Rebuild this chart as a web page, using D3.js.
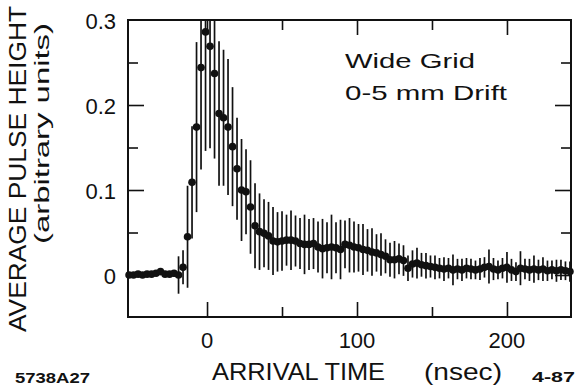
<!DOCTYPE html>
<html>
<head>
<meta charset="utf-8">
<script src="https://cdn.jsdelivr.net/npm/d3@7"></script>
<style>
  body { margin: 0; background: #fff; }
  svg { display: block; }
  text { font-family: "Liberation Sans", Arial, sans-serif; fill: #111; }
</style>
</head>
<body>
<svg id="chart" width="576" height="386"></svg>
<script>
// Arrival time of each bin (nsec)
const times = [
  -52, -49, -46, -43, -40, -37, -34, -31, -28, -25,
  -22, -19, -16, -13, -10, -7, -4, -1, 2, 5,
  8, 11, 14, 17, 20, 23, 26, 29, 32, 35,
  38, 41, 44, 47, 50, 53, 56, 59, 62, 65,
  68, 71, 74, 77, 80, 83, 86, 89, 92, 95,
  98, 101, 104, 107, 110, 113, 116, 119, 122, 125,
  128, 131, 134, 137, 140, 143, 146, 149, 152, 155,
  158, 161, 164, 167, 170, 173, 176, 179, 182, 185,
  188, 191, 194, 197, 200, 203, 206, 209, 212, 215,
  218, 221, 224, 227, 230, 233, 236, 239, 242
];
// Average pulse height per bin (arbitrary units)
const heights = [
  0.000, 0.000, 0.001, 0.000, 0.001, 0.001, 0.002, 0.004, 0.001, 0.001,
  0.002, 0.000, 0.009, 0.045, 0.109, 0.174, 0.244, 0.286, 0.269, 0.237,
  0.190, 0.185, 0.174, 0.151, 0.125, 0.100, 0.098, 0.080, 0.058, 0.051,
  0.049, 0.046, 0.040, 0.039, 0.040, 0.041, 0.041, 0.040, 0.037, 0.036,
  0.036, 0.037, 0.033, 0.031, 0.032, 0.033, 0.032, 0.030, 0.036, 0.035,
  0.033, 0.032, 0.030, 0.029, 0.027, 0.026, 0.024, 0.022, 0.018, 0.018,
  0.019, 0.017, 0.008, 0.013, 0.014, 0.012, 0.011, 0.010, 0.009, 0.008,
  0.007, 0.008, 0.006, 0.007, 0.006, 0.008, 0.007, 0.006, 0.007, 0.009,
  0.010, 0.007, 0.006, 0.008, 0.009, 0.006, 0.004, 0.008, 0.007, 0.006,
  0.007, 0.006, 0.007, 0.005, 0.006, 0.005, 0.006, 0.005, 0.004
];
// Half-length of each error bar
const errors = [
  0.003, 0.003, 0.003, 0.003, 0.003, 0.003, 0.003, 0.004, 0.003, 0.003,
  0.004, 0.022, 0.020, 0.060, 0.066, 0.100, 0.120, 0.140, 0.120, 0.100,
  0.085, 0.080, 0.080, 0.070, 0.060, 0.060, 0.050, 0.055, 0.050, 0.045,
  0.040, 0.040, 0.040, 0.035, 0.035, 0.030, 0.035, 0.030, 0.030, 0.035,
  0.030, 0.030, 0.030, 0.035, 0.030, 0.038, 0.030, 0.035, 0.028, 0.032,
  0.030, 0.028, 0.030, 0.025, 0.028, 0.022, 0.025, 0.020, 0.020, 0.022,
  0.018, 0.018, 0.015, 0.016, 0.018, 0.014, 0.015, 0.013, 0.014, 0.012,
  0.014, 0.012, 0.018, 0.012, 0.013, 0.012, 0.012, 0.011, 0.013, 0.012,
  0.020, 0.013, 0.011, 0.012, 0.018, 0.013, 0.011, 0.020, 0.012, 0.013,
  0.016, 0.012, 0.014, 0.012, 0.011, 0.013, 0.012, 0.011, 0.012
];

const xMajorTicks = [0, 100, 200];
const xMinorTicks = [50, 150];
const yMajorTicks = [0, 0.1, 0.2, 0.3];
const yMinorTicks = [0.05, 0.15, 0.25];
const yTickLabels = ["0", "0.1", "0.2", "0.3"];

const margin = { left: 128, top: 20, right: 5, bottom: 69 };
const W = 576, H = 386;
const iw = W - margin.left - margin.right;
const ih = H - margin.top - margin.bottom;

const svg = d3.select("#chart");
const x = d3.scaleLinear().domain([-52.7, 242.7]).range([0, iw]);
const y = d3.scaleLinear().domain([-0.0494, 0.3]).range([ih, 0]);

const g = svg.append("g").attr("transform", `translate(${margin.left},${margin.top})`);

g.append("clipPath").attr("id", "plot-clip")
  .append("rect").attr("width", iw).attr("height", ih);

// Inward ticks on all four sides; majors longer than minors
function ticks(axisFn, scale, values, len, tx, ty) {
  const a = axisFn(scale).tickValues(values).tickSizeInner(-len).tickSizeOuter(0).tickFormat("");
  const s = g.append("g").attr("transform", `translate(${tx},${ty})`).call(a);
  s.select(".domain").remove();
  s.selectAll(".tick line").attr("stroke", "#111").attr("stroke-width", 1.6);
}
ticks(d3.axisBottom, x, xMajorTicks, 15, 0, ih);
ticks(d3.axisBottom, x, xMinorTicks, 10, 0, ih);
ticks(d3.axisTop, x, xMajorTicks, 15, 0, 0);
ticks(d3.axisTop, x, xMinorTicks, 10, 0, 0);
ticks(d3.axisLeft, y, yMajorTicks.slice(0, 3), 16, 0, 0);
ticks(d3.axisLeft, y, yMinorTicks, 10, 0, 0);
ticks(d3.axisRight, y, yMajorTicks.slice(0, 3), 16, iw, 0);
ticks(d3.axisRight, y, yMinorTicks, 10, iw, 0);

// Error bars
const data = times.map((t, i) => ({ t, v: heights[i], e: errors[i] }));
g.append("g").attr("clip-path", "url(#plot-clip)")
  .selectAll("line").data(data).join("line")
  .attr("x1", d => x(d.t)).attr("x2", d => x(d.t))
  .attr("y1", d => y(d.v - d.e)).attr("y2", d => y(d.v + d.e))
  .attr("stroke", "#111").attr("stroke-width", 1.7);

// Data points
g.append("g").selectAll("circle").data(data).join("circle")
  .attr("cx", d => x(d.t)).attr("cy", d => y(d.v)).attr("r", 3.8)
  .attr("fill", "#111");

// Frame
g.append("rect").attr("width", iw).attr("height", ih)
  .attr("fill", "none").attr("stroke", "#111").attr("stroke-width", 2);

// Tick labels
g.append("g").selectAll("text").data(xMajorTicks).join("text")
  .attr("x", d => x(d)).attr("y", ih + 31)
  .attr("text-anchor", "middle").attr("font-size", 22)
  .text(d => d);
g.append("g").selectAll("text").data(yMajorTicks).join("text")
  .attr("x", -12).attr("y", d => y(d) + 9)
  .attr("text-anchor", "end").attr("font-size", 22)
  .text((d, i) => yTickLabels[i]);

// Axis titles
svg.append("text").attr("x", 212).attr("y", 380).attr("font-size", 24)
  .attr("textLength", 173).attr("lengthAdjust", "spacingAndGlyphs")
  .text("ARRIVAL TIME");
svg.append("text").attr("x", 424).attr("y", 380).attr("font-size", 24)
  .attr("textLength", 78).attr("lengthAdjust", "spacingAndGlyphs")
  .text("(nsec)");
svg.append("text").attr("transform", "translate(26,332) rotate(-90)")
  .attr("font-size", 24).attr("textLength", 326).attr("lengthAdjust", "spacingAndGlyphs")
  .text("AVERAGE PULSE HEIGHT");
svg.append("text").attr("transform", "translate(49,244) rotate(-90)")
  .attr("font-size", 20).attr("textLength", 221).attr("lengthAdjust", "spacingAndGlyphs")
  .text("(arbitrary units)");

// Annotation
svg.append("text").attr("x", 345).attr("y", 68).attr("font-size", 21)
  .attr("textLength", 130).attr("lengthAdjust", "spacingAndGlyphs")
  .text("Wide Grid");
svg.append("text").attr("x", 345).attr("y", 100).attr("font-size", 21)
  .attr("textLength", 162).attr("lengthAdjust", "spacingAndGlyphs")
  .text("0-5 mm Drift");

// Figure codes
svg.append("text").attr("x", 15).attr("y", 383).attr("font-size", 14)
  .attr("font-weight", "bold").attr("textLength", 75).attr("lengthAdjust", "spacingAndGlyphs")
  .text("5738A27");
svg.append("text").attr("x", 532).attr("y", 382).attr("font-size", 14)
  .attr("font-weight", "bold").attr("textLength", 43).attr("lengthAdjust", "spacingAndGlyphs")
  .text("4-87");
</script>
</body>
</html>
